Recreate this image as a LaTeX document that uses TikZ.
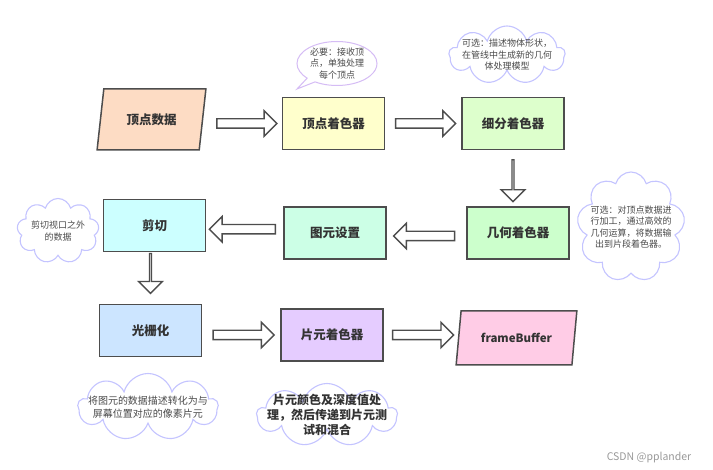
\documentclass[tikz,border=0pt]{standalone}
\usepackage{fontspec}
\setmainfont{Noto Sans CJK SC}
\usetikzlibrary{shapes.geometric,shapes.symbols,shapes.callouts,shapes.arrows,calc}
\definecolor{bordercol}{HTML}{4D4D4D}
\definecolor{txtcol}{HTML}{333333}
\definecolor{notecol}{HTML}{4A4A4A}
\definecolor{cloudcol}{HTML}{C4C4FF}
\definecolor{calloutcol}{HTML}{D5BCF5}
\definecolor{cPeach}{HTML}{FDDCC4}
\definecolor{cYellow}{HTML}{FFFFCC}
\definecolor{cLime}{HTML}{DDFFCC}
\definecolor{cGreen}{HTML}{CCFFCC}
\definecolor{cMint}{HTML}{CCFFE6}
\definecolor{cCyan}{HTML}{CCFFFF}
\definecolor{cBlue}{HTML}{CCE5FF}
\definecolor{cLav}{HTML}{E5CCFF}
\definecolor{cPink}{HTML}{FFCCE6}
\begin{document}
\begin{tikzpicture}[x=1pt,y=-1pt,
  box/.style={draw=bordercol, line width=1.5pt, minimum width=102pt, minimum height=52pt,
    inner sep=0pt, font=\fontsize{12.5}{14}\selectfont\bfseries, text=txtcol},
  para/.style={box, trapezium, trapezium stretches=true},
  barrow/.style={single arrow, draw=bordercol, line width=1.4pt, fill=white,
    minimum width=24pt, single arrow head extend=8pt, inner xsep=0pt, inner ysep=4pt},
  cloudsty/.style={cloud, cloud puffs=9, cloud ignores aspect, draw=cloudcol, line width=1.1pt, inner sep=0pt},
  note/.style={font=\fontsize{9}{11.5}\selectfont, text=notecol, align=center},
  bignote/.style={font=\fontsize{12}{15}\selectfont\bfseries, text=txtcol, align=center}
]
\path[use as bounding box, fill=white] (0,0) rectangle (713,470);

% main nodes
\node[para, fill=cPeach, minimum width=109pt, minimum height=61pt,
  trapezium left angle=73.6, trapezium right angle=106.4] (vd) at (151.5,119.5) {顶点数据};
\node[box, fill=cYellow] (vs) at (333.5,123.5) {顶点着色器};
\node[box, fill=cLime] (xf) at (513,123.5) {细分着色器};
\node[box, fill=cGreen] (jh) at (518,233) {几何着色器};
\node[box, fill=cMint] (ty) at (335,233) {图元设置};
\node[box, fill=cCyan] (jq) at (154.5,225.5) {剪切};
\node[box, fill=cBlue] (gs) at (150.5,330.5) {光栅化};
\node[box, fill=cLav] (py) at (332,335) {片元着色器};
\node[para, fill=cPink, minimum width=121pt, minimum height=54pt,
  trapezium left angle=71.6, trapezium right angle=108.4,
  font=\fontsize{11.5}{14}\selectfont\bfseries] (fb) at (516.5,338) {frameBuffer};

% block arrows between nodes
\coordinate (m1) at ($(vd.east)!0.5!(vs.west)$);
\node[barrow, minimum height=60pt] (a1) at ([xshift=2pt]m1 |- vs) {};
\coordinate (m2) at ($(vs.east)!0.5!(xf.west)$);
\node[barrow, minimum height=60pt] (a2) at (m2) {};
\coordinate (m3) at ($(xf.south)!0.5!(jh.north)$);
\node[barrow, shape border rotate=270, minimum height=42pt] (a3) at ([yshift=-2pt]m3 -| xf) {};
\coordinate (m4) at ($(jh.west)!0.5!(ty.east)$);
\node[barrow, shape border rotate=180, minimum height=61pt] (a4) at ([yshift=-3pt]m4) {};
\coordinate (m5) at ($(ty.west)!0.5!(jq.east)$);
\node[barrow, shape border rotate=180, minimum height=66pt] (a5) at (m5) {};
\coordinate (m6) at ($(jq.south)!0.5!(gs.north)$);
\node[barrow, shape border rotate=270, minimum height=40pt] (a6) at ([yshift=5pt]m6 -| gs) {};
\coordinate (m7) at ($(gs.east)!0.5!(py.west)$);
\node[barrow, minimum height=61pt] (a7) at (m7 |- py) {};
\coordinate (m8) at ($(py.east)!0.5!(fb.west)$);
\node[barrow, minimum height=61pt] (a8) at (m8 |- py) {};

% callout and clouds
\node[ellipse callout, draw=calloutcol, line width=1pt, fill=white, inner sep=0pt,
  minimum width=80pt, minimum height=44pt, callout absolute pointer={(297,89)},
  label={[note]center:必要：接收顶\\点，单独处理\\每个顶点}] (n1) at (337,63.5) {};
\node[cloudsty, minimum width=116pt, minimum height=58pt,
  label={[note]center:可选：描述物体形状，\\在管线中生成新的几何\\体处理模型}] (n2) at (507,55) {};
\node[cloudsty, minimum width=108pt, minimum height=110pt,
  label={[note]center:可选：对顶点数据进\\行加工，通过高效的\\几何运算，将数据输\\出到片段着色器。}] (n3) at (631,227) {};
\node[cloudsty, minimum width=82pt, minimum height=65pt,
  label={[note]center:剪切视口之外\\的数据}] (n4) at (58,231) {};
\node[cloudsty, minimum width=140pt, minimum height=67pt,
  label={[note, font=\fontsize{10}{12.5}\selectfont]center:将图元的数据描述转化为与\\屏幕位置对应的像素片元}] (n5) at (148,407) {};
\node[cloudsty, minimum width=140pt, minimum height=63pt,
  label={[bignote]center:片元颜色及深度值处\\理，然后传递到片元测\\试和混合}] (n6) at (327,415) {};

% watermark
\node[font=\fontsize{10.5}{12}\selectfont, text=black!40] (wm) at (649,458) {CSDN @pplander};
\end{tikzpicture}
\end{document}
